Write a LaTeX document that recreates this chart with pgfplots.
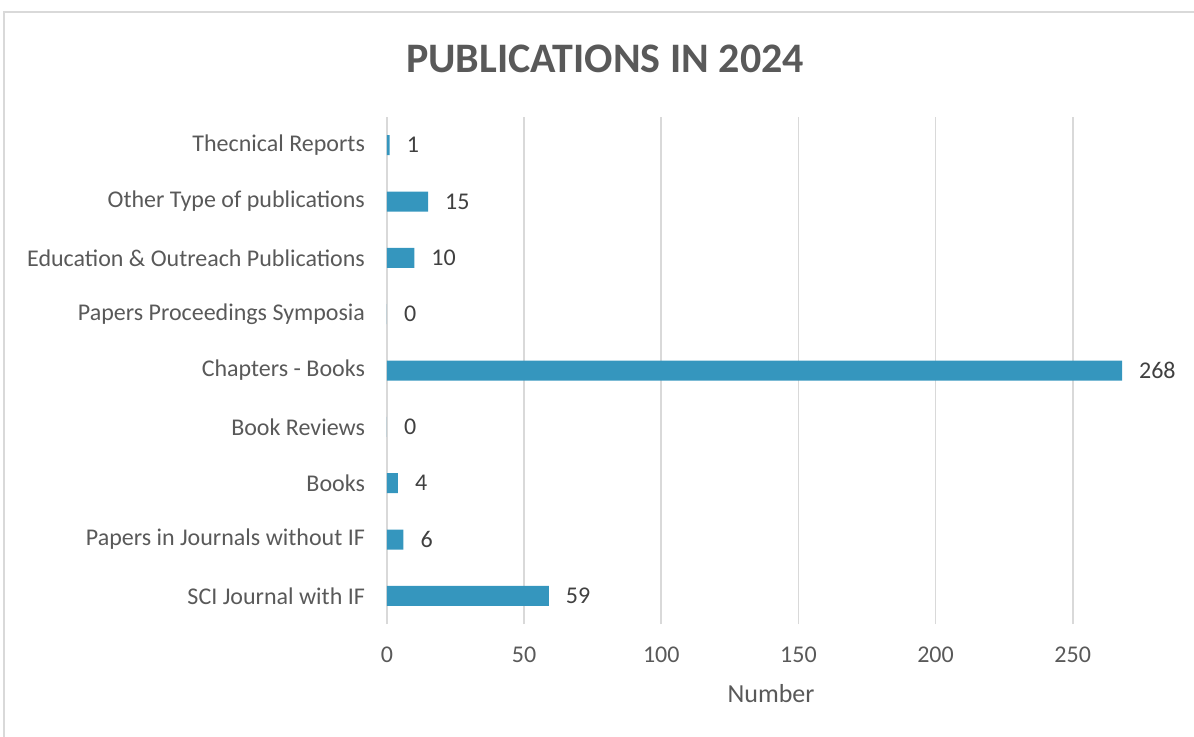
\documentclass[border=0pt]{standalone}
\usepackage{fontspec}
\setmainfont{Carlito}
\usepackage{pgfplots}
\pgfplotsset{compat=1.18}
\definecolor{barblue}{HTML}{3596BE}
\definecolor{txtgray}{HTML}{595959}
\definecolor{lblgray}{HTML}{404040}
\definecolor{gridgray}{HTML}{D9D9D9}
\begin{document}
\begin{tikzpicture}[x=0.5pt,y=0.5pt]
\useasboundingbox (0,0) rectangle (1194,-736);
% chart frame (cropped on the right and bottom)
\draw[gridgray, line width=1.2pt] (4,-12) rectangle (1300,-900);
\node[font=\fontsize{21}{24}\selectfont\bfseries, text=txtgray] at (605,-59) {PUBLICATIONS IN 2024};
\begin{axis}[
    at={(193.5pt,-312pt)}, anchor=south west,
    scale only axis,
    width=384pt, height=253.5pt,
    xbar, bar width=10pt,
    xmin=0, xmax=280,
    ymin=-0.5, ymax=8.5,
    xtick={0,50,...,250},
    ytick={0,...,8},
    yticklabels={SCI Journal with IF, Papers in Journals without IF, Books, Book Reviews,
      Chapters - Books, Papers Proceedings Symposia, Education \& Outreach Publications,
      Other Type of publications, Thecnical Reports},
    xmajorgrids, grid style={gridgray, line width=0.8pt},
    axis line style={draw=none},
    major tick length=0pt,
    /pgf/number format/assume math mode=true,
    ticklabel style={font=\fontsize{12}{14}\selectfont, text=txtgray},
    xticklabel style={yshift=-8pt},
    yticklabel style={xshift=-7.5pt},
    xlabel={Number},
    xlabel style={font=\fontsize{13}{15}\selectfont, text=txtgray, yshift=-4pt},
    nodes near coords,
    nodes near coords style={font=\fontsize{12}{14}\selectfont, text=lblgray, anchor=west, xshift=5pt},
    point meta=x,
]
\addplot[fill=barblue, draw=none] coordinates {
  (59,0) (6,1) (4,2) (0,3) (268,4)
  (0,5) (10,6) (15,7) (1,8)
};
\end{axis}
\end{tikzpicture}
\end{document}
